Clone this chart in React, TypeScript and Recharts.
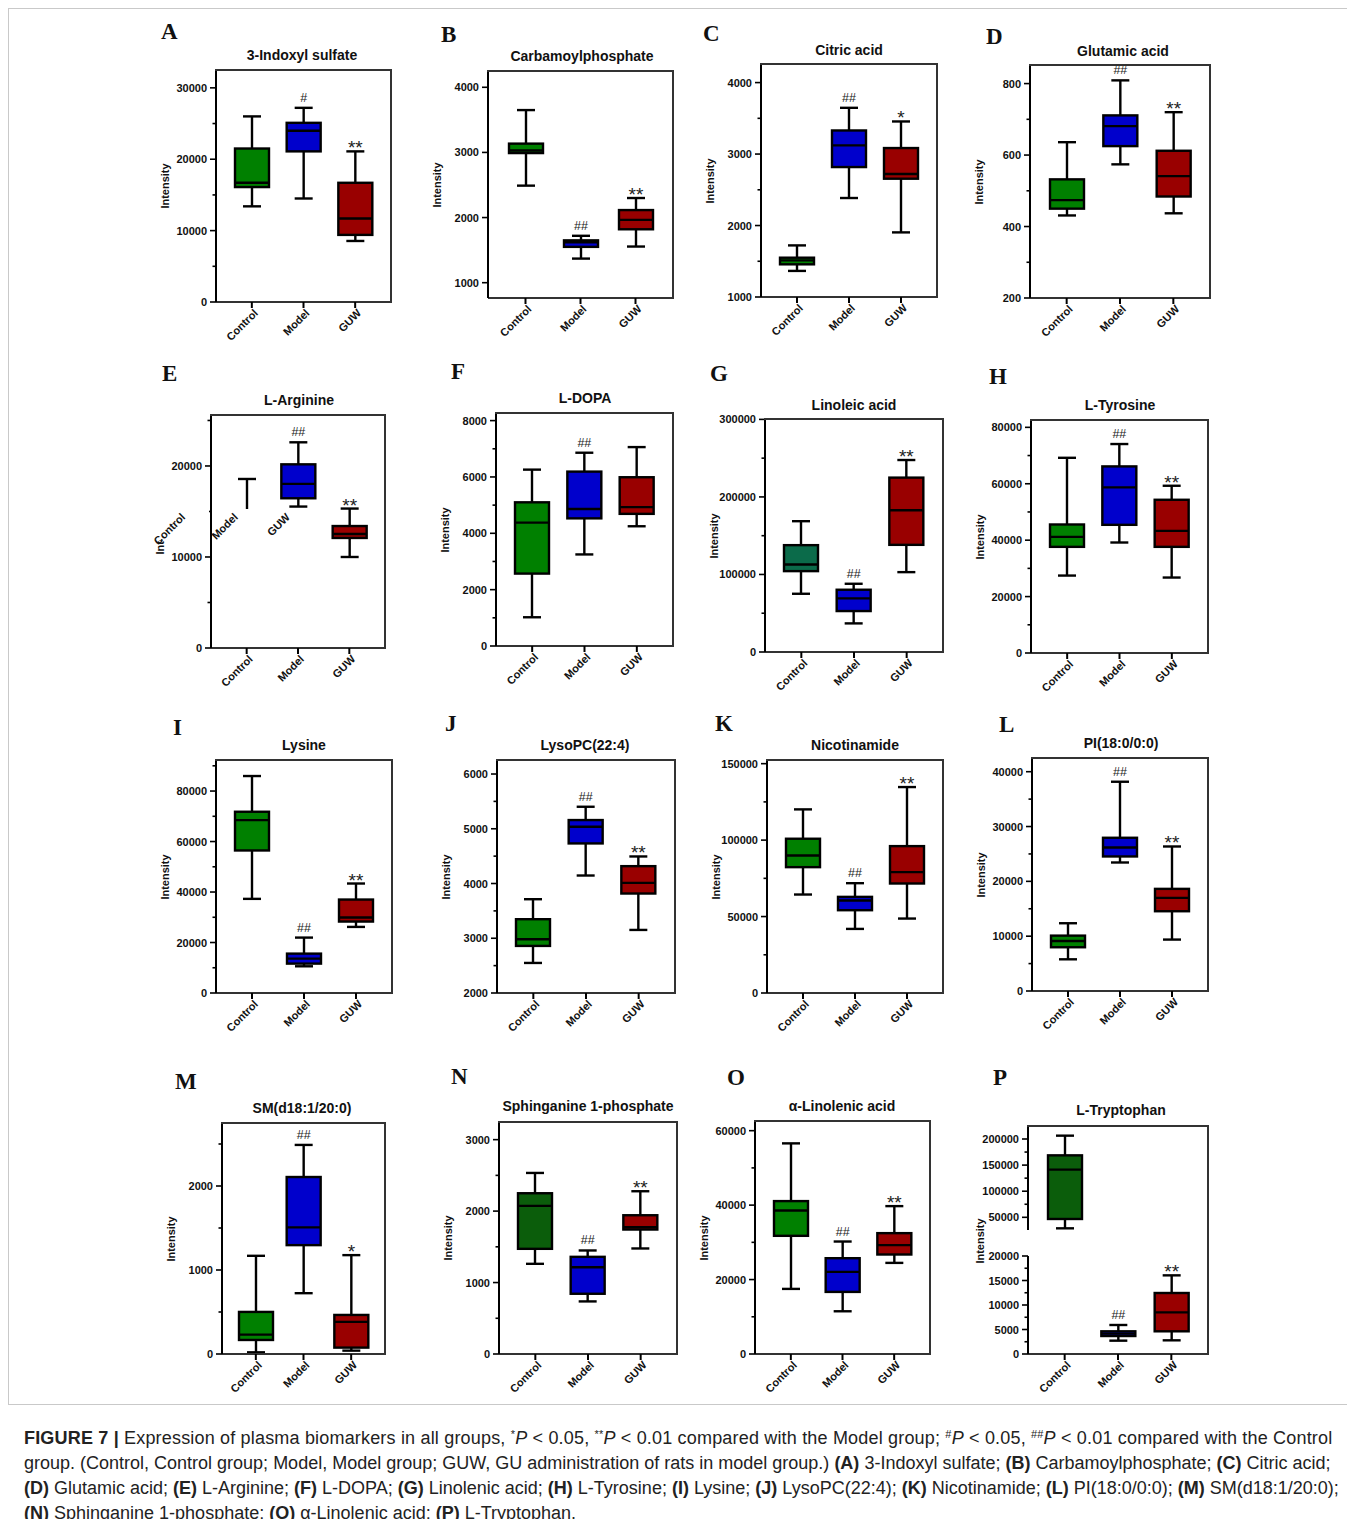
import React from "react";
import { ComposedChart, Bar, XAxis, YAxis } from "recharts";

const groups = ["Control", "Model", "GUW"];

// each box: [min, Q1, median, Q3, max] for Control, Model, GUW
const indoxylSulfate = [
  [13400, 16100, 16700, 21500, 26000],
  [14500, 21100, 24000, 25100, 27200],
  [8550, 9400, 11700, 16700, 21100],
];
const carbamoylphosphate = [
  [2490, 2990, 3030, 3135, 3650],
  [1370, 1550, 1620, 1650, 1720],
  [1555, 1820, 1965, 2115, 2300],
];
const citricAcid = [
  [1365, 1457, 1512, 1550, 1722],
  [2385, 2818, 3121, 3330, 3647],
  [1904, 2655, 2720, 3084, 3456],
];
const glutamicAcid = [
  [431, 450, 474, 532, 636],
  [574, 625, 681, 711, 809],
  [437, 484, 541, 612, 720],
];
const lArginine = [
  [12600, 13300, 14000, 14900, 18570],
  [15540, 16450, 18030, 20180, 22600],
  [10000, 12090, 12520, 13400, 15320],
];
const lDopa = [
  [1020, 2570, 4380, 5100, 6260],
  [3250, 4530, 4860, 6190, 6860],
  [4250, 4690, 4930, 5990, 7060],
];
const linoleicAcid = [
  [75100, 104300, 112900, 137800, 168700],
  [36900, 52800, 69100, 80300, 88000],
  [103000, 138200, 182800, 224900, 247600],
];
const lTyrosine = [
  [27450, 37630, 41180, 45560, 69200],
  [39170, 45440, 58700, 66150, 74080],
  [26750, 37630, 43310, 54320, 59290],
];
const lysine = [
  [37290, 56460, 68500, 71800, 85950],
  [10580, 11640, 13620, 15600, 21950],
  [26180, 28300, 29880, 37020, 43370],
];
const lysoPC = [
  [2549, 2860, 2982, 3348, 3713],
  [4146, 4732, 5037, 5159, 5402],
  [3152, 3817, 4012, 4317, 4494],
];
const nicotinamide = [
  [64410, 82310, 89960, 100900, 120100],
  [41920, 54150, 60480, 62880, 71830],
  [48690, 71620, 79040, 96070, 134700],
];
const pi18 = [
  [5780, 7980, 9130, 10100, 12360],
  [23440, 24540, 26180, 27950, 38170],
  [9380, 14550, 16990, 18630, 26360],
];
const sm18 = [
  [20, 167, 231, 501, 1169],
  [724, 1296, 1507, 2107, 2489],
  [40, 76, 382, 465, 1177],
];
const sphinganine = [
  [1262, 1472, 2073, 2250, 2534],
  [736, 843, 1215, 1360, 1449],
  [1477, 1742, 1775, 1942, 2278],
];
const alphaLinolenic = [
  [17490, 31750, 38570, 41080, 56590],
  [11480, 16680, 22060, 25740, 30220],
  [24480, 26730, 29240, 32470, 39730],
];
const lTryptophan = [
  [28900, 46800, 141300, 168700, 206400],
  [2720, 3670, 4150, 4630, 5920],
  [2790, 4630, 8500, 12450, 16050],
];

// significance marks
const marksHash = ["", "#", "**"];
const marksBoth = ["", "##", "**"];
const marksSingle = ["", "##", "*"];
const marksModelOnly = ["", "##", ""];

// axis ticks
const ticksA = [0, 10000, 20000, 30000];
const minorA = [5000, 15000, 25000];
const ticksB = [1000, 2000, 3000, 4000];
const ticksC = [1000, 2000, 3000, 4000];
const minorC = [1500, 2500, 3500];
const ticksD = [200, 400, 600, 800];
const minorD = [300, 500, 700];
const ticksE = [0, 10000, 20000];
const minorE = [5000, 15000, 25000];
const ticksF = [0, 2000, 4000, 6000, 8000];
const minorF = [1000, 3000, 5000, 7000];
const ticksG = [0, 100000, 200000, 300000];
const minorG = [50000, 150000, 250000];
const ticksH = [0, 20000, 40000, 60000, 80000];
const minorH = [10000, 30000, 50000, 70000];
const ticksI = [0, 20000, 40000, 60000, 80000];
const minorI = [10000, 30000, 50000, 70000, 90000];
const ticksJ = [2000, 3000, 4000, 5000, 6000];
const minorJ = [2500, 3500, 4500, 5500];
const ticksK = [0, 50000, 100000, 150000];
const minorK = [25000, 75000, 125000];
const ticksL = [0, 10000, 20000, 30000, 40000];
const minorL = [5000, 15000, 25000, 35000];
const ticksM = [0, 1000, 2000];
const minorM = [500, 1500, 2500];
const ticksN = [0, 1000, 2000, 3000];
const minorN = [500, 1500, 2500];
const ticksO = [0, 20000, 40000, 60000];
const minorO = [10000, 30000, 50000];
const ticksPUpper = [50000, 100000, 150000, 200000];
const minorPUpper = [75000, 125000, 175000];
const ticksPLower = [0, 5000, 10000, 15000, 20000];
const minorPLower = [2500, 7500, 12500, 17500];

const colorsMain = ["#008000", "#0000CC", "#990000"];
const colorsTeal = ["#0B6B4A", "#0000CC", "#990000"];
const colorsDark = ["#0B5D0B", "#0000CC", "#990000"];

const FONT = "'Liberation Sans', Arial, sans-serif";
const OFF = 8; // body margin
const AXW = 70;
const TOPM = 20;

type PanelDef = {
  letter: string;
  title: string;
  boxes: number[][];
  marks: string[];
  colors: string[];
  domain: [number, number];
  major: number[];
  minor: number[];
  frame: { x: number; y: number; w: number; h: number };
  letterAt: [number, number];
  titleAt: [number, number];
};

const panels: PanelDef[] = [
  { letter: "A", title: "3-Indoxyl sulfate", boxes: indoxylSulfate, marks: marksHash, colors: colorsMain, domain: [0, 32500], major: ticksA, minor: minorA, frame: { x: 216, y: 70, w: 175, h: 232 }, letterAt: [162, 25], titleAt: [302, 55] },
  { letter: "B", title: "Carbamoylphosphate", boxes: carbamoylphosphate, marks: marksBoth, colors: colorsMain, domain: [765, 4250], major: ticksB, minor: [], frame: { x: 488, y: 71, w: 185, h: 227 }, letterAt: [442, 28], titleAt: [582, 56] },
  { letter: "C", title: "Citric acid", boxes: citricAcid, marks: marksSingle, colors: colorsMain, domain: [1000, 4260], major: ticksC, minor: minorC, frame: { x: 761, y: 64, w: 176, h: 233 }, letterAt: [704, 27], titleAt: [849, 50] },
  { letter: "D", title: "Glutamic acid", boxes: glutamicAcid, marks: marksBoth, colors: colorsMain, domain: [200, 852], major: ticksD, minor: minorD, frame: { x: 1030, y: 65, w: 180, h: 233 }, letterAt: [987, 30], titleAt: [1123, 51] },
  { letter: "E", title: "L-Arginine", boxes: lArginine, marks: marksBoth, colors: colorsMain, domain: [0, 25600], major: ticksE, minor: minorE, frame: { x: 211, y: 415, w: 174, h: 233 }, letterAt: [163, 367], titleAt: [299, 400] },
  { letter: "F", title: "L-DOPA", boxes: lDopa, marks: marksModelOnly, colors: colorsMain, domain: [0, 8270], major: ticksF, minor: minorF, frame: { x: 496, y: 413, w: 177, h: 233 }, letterAt: [452, 365], titleAt: [585, 398] },
  { letter: "G", title: "Linoleic acid", boxes: linoleicAcid, marks: marksBoth, colors: colorsTeal, domain: [0, 300500], major: ticksG, minor: minorG, frame: { x: 765, y: 419, w: 178, h: 233 }, letterAt: [711, 367], titleAt: [854, 405] },
  { letter: "H", title: "L-Tyrosine", boxes: lTyrosine, marks: marksBoth, colors: colorsMain, domain: [0, 82600], major: ticksH, minor: minorH, frame: { x: 1031, y: 420, w: 177, h: 233 }, letterAt: [990, 370], titleAt: [1120, 405] },
  { letter: "I", title: "Lysine", boxes: lysine, marks: marksBoth, colors: colorsMain, domain: [0, 92300], major: ticksI, minor: minorI, frame: { x: 216, y: 760, w: 176, h: 233 }, letterAt: [174, 721], titleAt: [304, 745] },
  { letter: "J", title: "LysoPC(22:4)", boxes: lysoPC, marks: marksBoth, colors: colorsMain, domain: [2000, 6256], major: ticksJ, minor: minorJ, frame: { x: 497, y: 760, w: 178, h: 233 }, letterAt: [446, 717], titleAt: [585, 745] },
  { letter: "K", title: "Nicotinamide", boxes: nicotinamide, marks: marksBoth, colors: colorsMain, domain: [0, 152400], major: ticksK, minor: minorK, frame: { x: 767, y: 760, w: 176, h: 233 }, letterAt: [716, 717], titleAt: [855, 745] },
  { letter: "L", title: "PI(18:0/0:0)", boxes: pi18, marks: marksBoth, colors: colorsMain, domain: [0, 42500], major: ticksL, minor: minorL, frame: { x: 1032, y: 758, w: 176, h: 233 }, letterAt: [1000, 718], titleAt: [1121, 743] },
  { letter: "M", title: "SM(d18:1/20:0)", boxes: sm18, marks: marksSingle, colors: colorsMain, domain: [0, 2750], major: ticksM, minor: minorM, frame: { x: 222, y: 1123, w: 163, h: 231 }, letterAt: [176, 1075], titleAt: [302, 1108] },
  { letter: "N", title: "Sphinganine 1-phosphate", boxes: sphinganine, marks: marksBoth, colors: colorsDark, domain: [0, 3247], major: ticksN, minor: minorN, frame: { x: 499, y: 1122, w: 178, h: 232 }, letterAt: [452, 1070], titleAt: [588, 1106] },
  { letter: "O", title: "α-Linolenic acid", boxes: alphaLinolenic, marks: marksBoth, colors: colorsMain, domain: [0, 62600], major: ticksO, minor: minorO, frame: { x: 755, y: 1121, w: 175, h: 233 }, letterAt: [728, 1071], titleAt: [842, 1106] },
];

// L-Tryptophan has a broken axis, drawn as two stacked charts
const pFrame = { x: 1028, y: 1126, w: 180, upperH: 104, gap: 26, lowerH: 98 };

const BoxShape = (props: any) => {
  const { x, y, width, height, payload } = props;
  if (!payload || !payload.stats || height == null || isNaN(height)) return <g />;
  const [lo, q1, med, q3, hi] = payload.stats;
  const top = Math.min(y, y + height);
  const h = Math.abs(height);
  const py = (v: number) => top + ((hi - v) / (hi - lo)) * h;
  const cx = x + width / 2;
  const cap = 9;
  const sw = 2.4;
  const mark: string = payload.mark;
  return (
    <g>
      <line x1={cx} x2={cx} y1={py(hi)} y2={py(lo)} stroke="#000" strokeWidth={sw} />
      <line x1={cx - cap} x2={cx + cap} y1={py(hi)} y2={py(hi)} stroke="#000" strokeWidth={sw} />
      <line x1={cx - cap} x2={cx + cap} y1={py(lo)} y2={py(lo)} stroke="#000" strokeWidth={sw} />
      <rect x={x} y={py(q3)} width={width} height={Math.max(py(q1) - py(q3), 1)} fill={payload.fill} stroke="#000" strokeWidth={sw} />
      <line x1={x} x2={x + width} y1={py(med)} y2={py(med)} stroke="#000" strokeWidth={sw} />
      {mark && mark.startsWith("#") && (
        <text x={cx} y={py(hi) - 6} textAnchor="middle" fontSize={12.5} fontFamily={FONT} fill="#222">
          {mark}
        </text>
      )}
      {mark && mark.startsWith("*") && (
        <text x={cx} y={py(hi) + 3} textAnchor="middle" fontSize={19} fontFamily={FONT} fill="#222">
          {mark}
        </text>
      )}
    </g>
  );
};

const makeYTick = (major: number[]) => (props: any) => {
  const { x, y, payload } = props;
  const isMajor = major.includes(payload.value);
  const ax = x + 9;
  return (
    <g>
      <line x1={ax - (isMajor ? 6 : 3.5)} x2={ax} y1={y} y2={y} stroke="#000" strokeWidth={1.6} />
      {isMajor && (
        <text x={x} y={y} dy={4} textAnchor="end" fontSize={11} fontWeight="bold" fontFamily={FONT} fill="#111">
          {payload.value}
        </text>
      )}
    </g>
  );
};

const XTick = (props: any) => {
  const { x, y, payload } = props;
  return (
    <text
      x={0}
      y={0}
      transform={`translate(${x + 4},${y + 1}) rotate(-45)`}
      textAnchor="end"
      dy="0.35em"
      fontSize={11}
      fontWeight="bold"
      fontFamily={FONT}
      fill="#111"
    >
      {payload.value}
    </text>
  );
};

function buildRows(boxes: number[][], marks: string[], colors: string[], keep?: (b: number[]) => boolean) {
  return groups.map((g, i) => {
    const b = boxes[i];
    const ok = !keep || keep(b);
    return {
      group: g,
      range: ok ? [b[0], b[4]] : null,
      stats: ok ? b : null,
      mark: ok ? marks[i] : "",
      fill: colors[i],
    };
  });
}

type ChartProps = {
  rows: any[];
  domain: [number, number];
  major: number[];
  minor: number[];
  w: number;
  h: number;
  showBottom: boolean;
  left: number;
  top: number;
};

function BoxChart({ rows, domain, major, minor, w, h, showBottom, left, top }: ChartProps) {
  const allTicks = [...major, ...minor].sort((a, b) => a - b);
  const bottomH = showBottom ? 60 : 0;
  return (
    <div style={{ position: "absolute", left: left - AXW - OFF, top: top - TOPM - OFF }}>
      <ComposedChart
        width={AXW + w + 4}
        height={h + TOPM + bottomH}
        data={rows}
        margin={{ top: TOPM, right: 4, left: 0, bottom: 0 }}
      >
        <XAxis
          dataKey="group"
          type="category"
          hide={!showBottom}
          height={60}
          padding={{ left: 10, right: 10 }}
          interval={0}
          tickSize={6}
          tickMargin={2}
          tick={<XTick />}
          tickLine={{ stroke: "#000", strokeWidth: 2 }}
          axisLine={{ stroke: "#333", strokeWidth: 2 }}
        />
        <YAxis
          type="number"
          width={AXW}
          domain={domain}
          allowDataOverflow
          ticks={allTicks}
          interval={0}
          tickSize={6}
          tickMargin={3}
          tickLine={false}
          tick={makeYTick(major)}
          axisLine={{ stroke: "#000", strokeWidth: 2 }}
        />
        <Bar dataKey="range" barSize={34} isAnimationActive={false} shape={BoxShape} />
      </ComposedChart>
    </div>
  );
}

const frameStyle = (x: number, y: number, w: number, h: number, sides: string): React.CSSProperties => ({
  position: "absolute",
  left: x - 1 - OFF,
  top: y - 1 - OFF,
  width: w + 2,
  height: h + 2,
  boxSizing: "border-box",
  borderStyle: "solid",
  borderColor: "#333",
  borderTopWidth: sides.includes("t") ? 2 : 0,
  borderRightWidth: sides.includes("r") ? 2 : 0,
  borderBottomWidth: sides.includes("b") ? 2 : 0,
  borderLeftWidth: sides.includes("l") ? 2 : 0,
  pointerEvents: "none",
});

const letterStyle = (x: number, y: number): React.CSSProperties => ({
  position: "absolute",
  left: x - OFF - 1,
  top: y - OFF - 5,
  fontFamily: "'Liberation Serif', 'Times New Roman', serif",
  fontWeight: "bold",
  fontSize: 23,
  lineHeight: 1,
  color: "#111",
});

const titleStyle = (x: number, y: number): React.CSSProperties => ({
  position: "absolute",
  left: x - OFF,
  top: y - OFF,
  transform: "translate(-50%, -50%)",
  fontFamily: FONT,
  fontWeight: "bold",
  fontSize: 14,
  whiteSpace: "nowrap",
  color: "#111",
});

const yLabelStyle = (x: number, y: number): React.CSSProperties => ({
  position: "absolute",
  left: x - OFF,
  top: y - OFF,
  transform: "translate(-50%, -50%) rotate(-90deg)",
  fontFamily: FONT,
  fontWeight: "bold",
  fontSize: 11,
  whiteSpace: "nowrap",
  color: "#111",
});

const sideLabel: React.CSSProperties = {
  position: "absolute",
  fontFamily: FONT,
  fontWeight: "bold",
  fontSize: 11,
  whiteSpace: "nowrap",
  color: "#111",
  transformOrigin: "100% 50%",
  transform: "rotate(-45deg)",
};

const b: React.CSSProperties = { fontWeight: "bold" };
const sup: React.CSSProperties = { fontSize: 11, verticalAlign: "top", lineHeight: "16px" };

export default function App() {
  const pUpper = buildRows(lTryptophan, marksBoth, colorsDark, (v) => v[0] > 20000);
  const pLower = buildRows(lTryptophan, marksBoth, colorsDark, (v) => v[4] <= 20000);
  return (
    <div style={{ position: "relative", width: 1339, height: 1511 }}>
      <div
        style={{
          position: "absolute",
          left: 0,
          top: 0,
          width: 1343,
          height: 1397,
          border: "1px solid #c9c9c9",
          boxSizing: "border-box",
        }}
      />
      {panels.map((p) => (
        <React.Fragment key={p.letter}>
          <div style={letterStyle(p.letterAt[0], p.letterAt[1])}>{p.letter}</div>
          <div style={titleStyle(p.titleAt[0], p.titleAt[1])}>{p.title}</div>
          <div style={yLabelStyle(p.frame.x - 51, p.frame.y + p.frame.h / 2)}>Intensity</div>
          <BoxChart
            rows={buildRows(p.boxes, p.marks, p.colors)}
            domain={p.domain}
            major={p.major}
            minor={p.minor}
            w={p.frame.w}
            h={p.frame.h}
            showBottom
            left={p.frame.x}
            top={p.frame.y}
          />
          <div style={frameStyle(p.frame.x, p.frame.y, p.frame.w, p.frame.h, "tr")} />
        </React.Fragment>
      ))}

      {/* stray copy of the x labels over panel E, as in the source figure */}
      <div style={{ position: "absolute", left: 140 - OFF, top: 509 - OFF, width: 160, height: 31 }}>
        <div style={{ position: "absolute", left: 0, top: 0, width: 69, height: 31, background: "#fff" }} />
        <div style={{ position: "absolute", left: 73, top: 0, width: 87, height: 31, background: "#fff" }} />
        {groups.map((g, i) => (
          <span key={g} style={{ ...sideLabel, right: 160 - (43 + i * 52.5), top: 0 }}>
            {g}
          </span>
        ))}
      </div>

      {/* P: L-Tryptophan, broken axis */}
      <div style={letterStyle(994, 1071)}>P</div>
      <div style={titleStyle(1121, 1110)}>L-Tryptophan</div>
      <div style={yLabelStyle(pFrame.x - 48, 1241)}>Intensity</div>
      <BoxChart
        rows={pUpper}
        domain={[25700, 224900]}
        major={ticksPUpper}
        minor={minorPUpper}
        w={pFrame.w}
        h={pFrame.upperH}
        showBottom={false}
        left={pFrame.x}
        top={pFrame.y}
      />
      <BoxChart
        rows={pLower}
        domain={[0, 20000]}
        major={ticksPLower}
        minor={minorPLower}
        w={pFrame.w}
        h={pFrame.lowerH}
        showBottom
        left={pFrame.x}
        top={pFrame.y + pFrame.upperH + pFrame.gap}
      />
      <div style={frameStyle(pFrame.x, pFrame.y, pFrame.w, pFrame.upperH + pFrame.gap + pFrame.lowerH, "tr")} />

      <div
        style={{
          position: "absolute",
          left: 24 - OFF,
          top: 1426 - OFF,
          fontFamily: FONT,
          fontSize: 18,
          lineHeight: "25px",
          color: "#222",
          whiteSpace: "nowrap",
        }}
      >
        <div style={{ letterSpacing: 0.18 }}>
          <span style={b}>FIGURE 7 |</span> Expression of plasma biomarkers in all groups, <span style={sup}>*</span>
          <i>P</i> &lt; 0.05, <span style={sup}>**</span>
          <i>P</i> &lt; 0.01 compared with the Model group; <span style={sup}>#</span>
          <i>P</i> &lt; 0.05, <span style={sup}>##</span>
          <i>P</i> &lt; 0.01 compared with the Control
        </div>
        <div>
          group. (Control, Control group; Model, Model group; GUW, GU administration of rats in model group.) <span style={b}>(A)</span> 3-Indoxyl sulfate; <span style={b}>(B)</span> Carbamoylphosphate; <span style={b}>(C)</span> Citric acid;
        </div>
        <div>
          <span style={b}>(D)</span> Glutamic acid; <span style={b}>(E)</span> L-Arginine; <span style={b}>(F)</span> L-DOPA; <span style={b}>(G)</span> Linolenic acid; <span style={b}>(H)</span> L-Tyrosine; <span style={b}>(I)</span> Lysine; <span style={b}>(J)</span> LysoPC(22:4); <span style={b}>(K)</span> Nicotinamide; <span style={b}>(L)</span> PI(18:0/0:0); <span style={b}>(M)</span> SM(d18:1/20:0);
        </div>
        <div>
          <span style={b}>(N)</span> Sphinganine 1-phosphate; <span style={b}>(O)</span> α-Linolenic acid; <span style={b}>(P)</span> L-Tryptophan.
        </div>
      </div>
    </div>
  );
}
